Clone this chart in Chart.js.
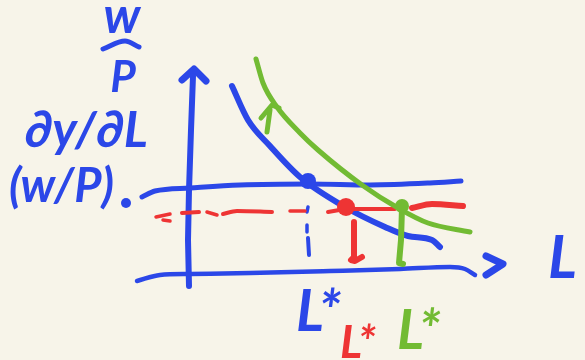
<!DOCTYPE html>
<html><head><meta charset="utf-8">
<style>html,body{margin:0;padding:0;background:#f7f4e9}canvas{display:block}</style>
<script src="https://cdn.jsdelivr.net/npm/chart.js@4/dist/chart.umd.min.js"></script>
</head><body><canvas id="c" width="585" height="360"></canvas>
<script>
const BLUE='#2b47e8',RED='#ee3434',GREEN='#72bb33',BG='#f7f4e9';
// hand-drawn strokes, in the chart's own units
const wageAxis=[[189,286],[188,240],[189,190],[191,130],[193,76]];
const wageArrow=[[182,80],[194,69],[206,81]];
const laborAxis=[[137,281],[160,275],[190,274],[250,273],[330,271],[400,269],[450,267],[465,269],[475,275]];
const laborArrow=[[486,256],[503,264],[486,275]];
const wageLine=[[142,197],[155,191],[190,188],[240,185],[310,184],[370,185],[430,183],[461,181]];
const mplCurve=[[232,86],[248,120],[270,146],[300,177],[345,207],[385,227],[408,236],[432,240],[440,247]];
const mplShifted=[[256,59],[263,83],[277,107],[300,133],[318,150],[362,185],[398,208],[428,223],[470,232]];
const shiftStem=[[267,132],[270,110]];
const shiftHead=[[261,118],[272,105],[279,108]];
const blueDrop1=[[308,207],[307,212]];
const blueDrop2=[[307,225],[307,232]];
const blueDrop3=[[308,238],[309,255]];
const redDash1=[[156,217],[170,214]];
const redDash2=[[163,220],[170,221]];
const redDash3=[[182,213],[199,212]];
const redDash4=[[207,212],[217,215]];
const redDash5=[[223,214],[237,211],[272,212]];
const redDash6=[[290,211],[305,211]];
const redThin=[[328,212],[345,209],[395,209]];
const redThick=[[412,208],[432,204],[463,206]];
const redDrop=[[354,222],[354,257],[351,260],[355,261],[362,257]];
const greenDrop=[[402,208],[401,240],[399,263],[403,264]];
const fractionBar=[[103,49],[125,41],[139,47]];
const subDot=[[126,203]];
const blueDot=[[308,181]];
const redDot=[[346,207]];
const greenDot=[[402,206]];
const axisLabels=['w','P','∂y/∂L','(w/P)','L','L*','L*','L*'];

const stroke=(pts,color,w,smooth=false)=>({type:'line',data:pts.map(p=>({x:p[0],y:p[1]})),borderColor:color,borderWidth:w,
  cubicInterpolationMode:smooth?'monotone':'default',tension:0,borderCapStyle:'round',borderJoinStyle:'round',pointRadius:0,fill:false});
const dot=(pts,color,r)=>({type:'scatter',data:pts.map(p=>({x:p[0],y:p[1]})),backgroundColor:color,borderWidth:0,pointRadius:r});

const textPlugin={id:'txt',
 beforeDraw(ch){const g=ch.ctx;g.save();g.fillStyle=BG;g.fillRect(0,0,ch.width,ch.height);g.restore();},
 afterDatasetsDraw(ch){const g=ch.ctx,X=ch.scales.x,Y=ch.scales.y;
  const place=[
   [axisLabels[0],122,33,'700 italic 50px Lato',BLUE,48],
   [axisLabels[1],123,92,'700 italic 44px Lato',BLUE,30],
   [axisLabels[2],25,147,'700 italic 50px Lato',BLUE,143,'left'],
   [axisLabels[3],9,202,'700 italic 47px Lato',BLUE,113,'left'],
   [axisLabels[4],548,278,'700 italic 60px Lato',BLUE,37,'left'],
   [axisLabels[5],296,331,'700 italic 58px Lato',BLUE,54,'left'],
   [axisLabels[6],340,358,'700 italic 46px Lato',RED,46,'left'],
   [axisLabels[7],397,349,'700 italic 56px Lato',GREEN,48,'left']];
  g.save();g.textBaseline='alphabetic';
  for(const [t,x,y,f,c,mw,al] of place){g.font=f;g.fillStyle=c;g.textAlign=al||'center';
   g.fillText(t,X.getPixelForValue(x),Y.getPixelForValue(y),mw);}
  g.restore();}
};
new Chart(document.getElementById('c'),{
 data:{datasets:[
  dot(blueDot,BLUE,8),dot(redDot,RED,9),dot(greenDot,GREEN,7),dot(subDot,BLUE,5),
  stroke(mplShifted,GREEN,5,true),stroke(shiftStem,GREEN,5),stroke(shiftHead,GREEN,5),
  stroke(greenDrop,GREEN,6),
  stroke(redThin,RED,4),stroke(redThick,RED,6,true),stroke(redDrop,RED,6),
  stroke(redDash1,RED,3.5),stroke(redDash2,RED,3.5),stroke(redDash3,RED,4),stroke(redDash4,RED,3.5),stroke(redDash5,RED,4,true),stroke(redDash6,RED,3.5),
  stroke(mplCurve,BLUE,6,true),stroke(wageLine,BLUE,5,true),stroke(laborAxis,BLUE,4.5,true),stroke(wageAxis,BLUE,6),
  stroke(wageArrow,BLUE,7),stroke(laborArrow,BLUE,7),stroke(fractionBar,BLUE,5,true),
  stroke(blueDrop1,BLUE,3.5),stroke(blueDrop2,BLUE,3.5),stroke(blueDrop3,BLUE,4)
 ]},
 options:{responsive:false,animation:false,layout:{padding:0,autoPadding:false},
  plugins:{legend:{display:false},tooltip:{enabled:false}},
  scales:{x:{type:'linear',min:0,max:585,display:false},y:{type:'linear',min:0,max:360,reverse:true,display:false}}},
 plugins:[textPlugin]
});
</script></body></html>
